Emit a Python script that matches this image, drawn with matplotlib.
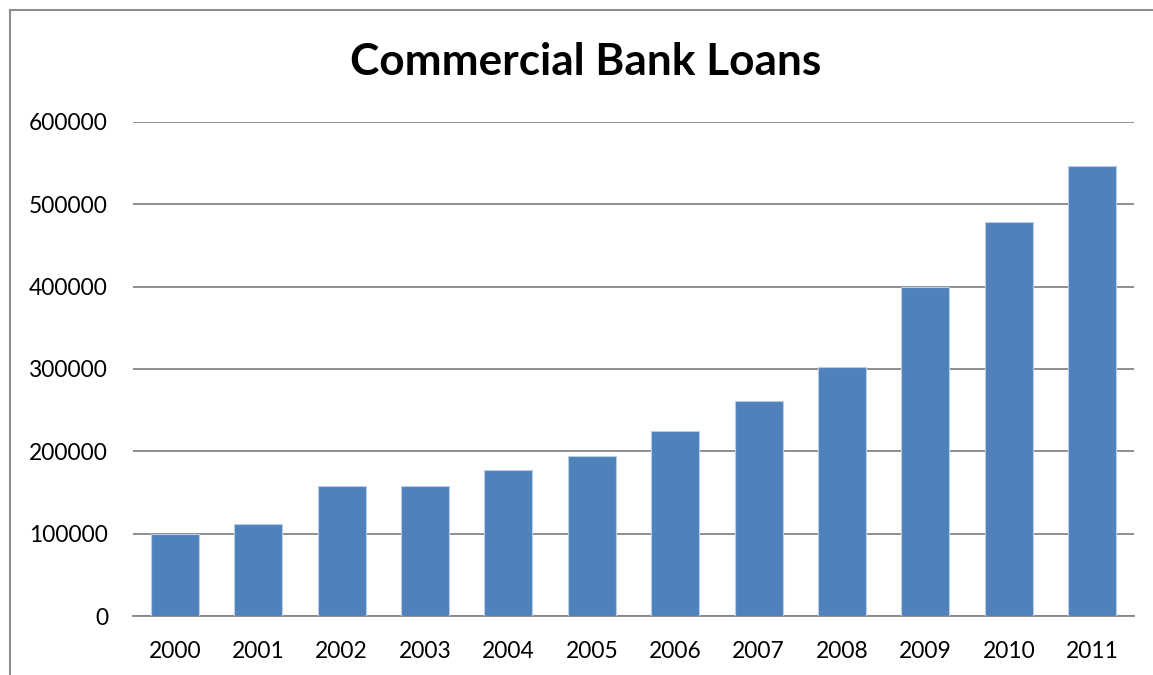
import matplotlib.pyplot as plt
from matplotlib.lines import Line2D

years = ['2000', '2001', '2002', '2003', '2004', '2005',
         '2006', '2007', '2008', '2009', '2010', '2011']
loans = [99500, 111700, 158300, 158300, 177700, 194300,
         224700, 261100, 302800, 399200, 478600, 546600]
yticks = [0, 100000, 200000, 300000, 400000, 500000, 600000]

plt.rcParams['font.family'] = ['Lato', 'DejaVu Sans']

fig = plt.figure(figsize=(11.53, 6.75), dpi=100)
ax = fig.add_axes([0.1154, 0.0874, 0.8681, 0.7319])

x = range(len(years))
ax.bar(x, loans, width=0.575, color='#4F81BD', edgecolor='#B9CDE5',
       linewidth=0.8, zorder=3)

ax.set_xlim(-0.5, len(years) - 0.5)
ax.set_ylim(0, 600000)
ax.set_yticks(yticks)
ax.set_yticklabels([str(v) for v in yticks])
ax.set_xticks(list(x))
ax.set_xticklabels(years)
ax.tick_params(axis='both', length=0, labelsize=16.4, colors='black')
ax.tick_params(axis='y', pad=18)
ax.tick_params(axis='x', pad=18)

ax.grid(axis='y', color='#868686', linewidth=1.3, zorder=0)
for s in ['top', 'right', 'left']:
    ax.spines[s].set_visible(False)
ax.spines['bottom'].set_color('#868686')
ax.spines['bottom'].set_linewidth(1.3)

fig.text(0.508, 1 - 62 / 675, 'Commercial Bank Loans', ha='center', va='center',
         fontsize=31.8, fontweight='bold')

# outer chart border (only top and left visible)
fig.add_artist(Line2D([10 / 1153, 1.0], [1 - 10 / 675, 1 - 10 / 675],
                      transform=fig.transFigure, color='#8c8c8c', linewidth=1.5))
fig.add_artist(Line2D([10 / 1153, 10 / 1153], [0.0, 1 - 10 / 675],
                      transform=fig.transFigure, color='#8c8c8c', linewidth=1.5))

plt.savefig('out.png', dpi=100)
